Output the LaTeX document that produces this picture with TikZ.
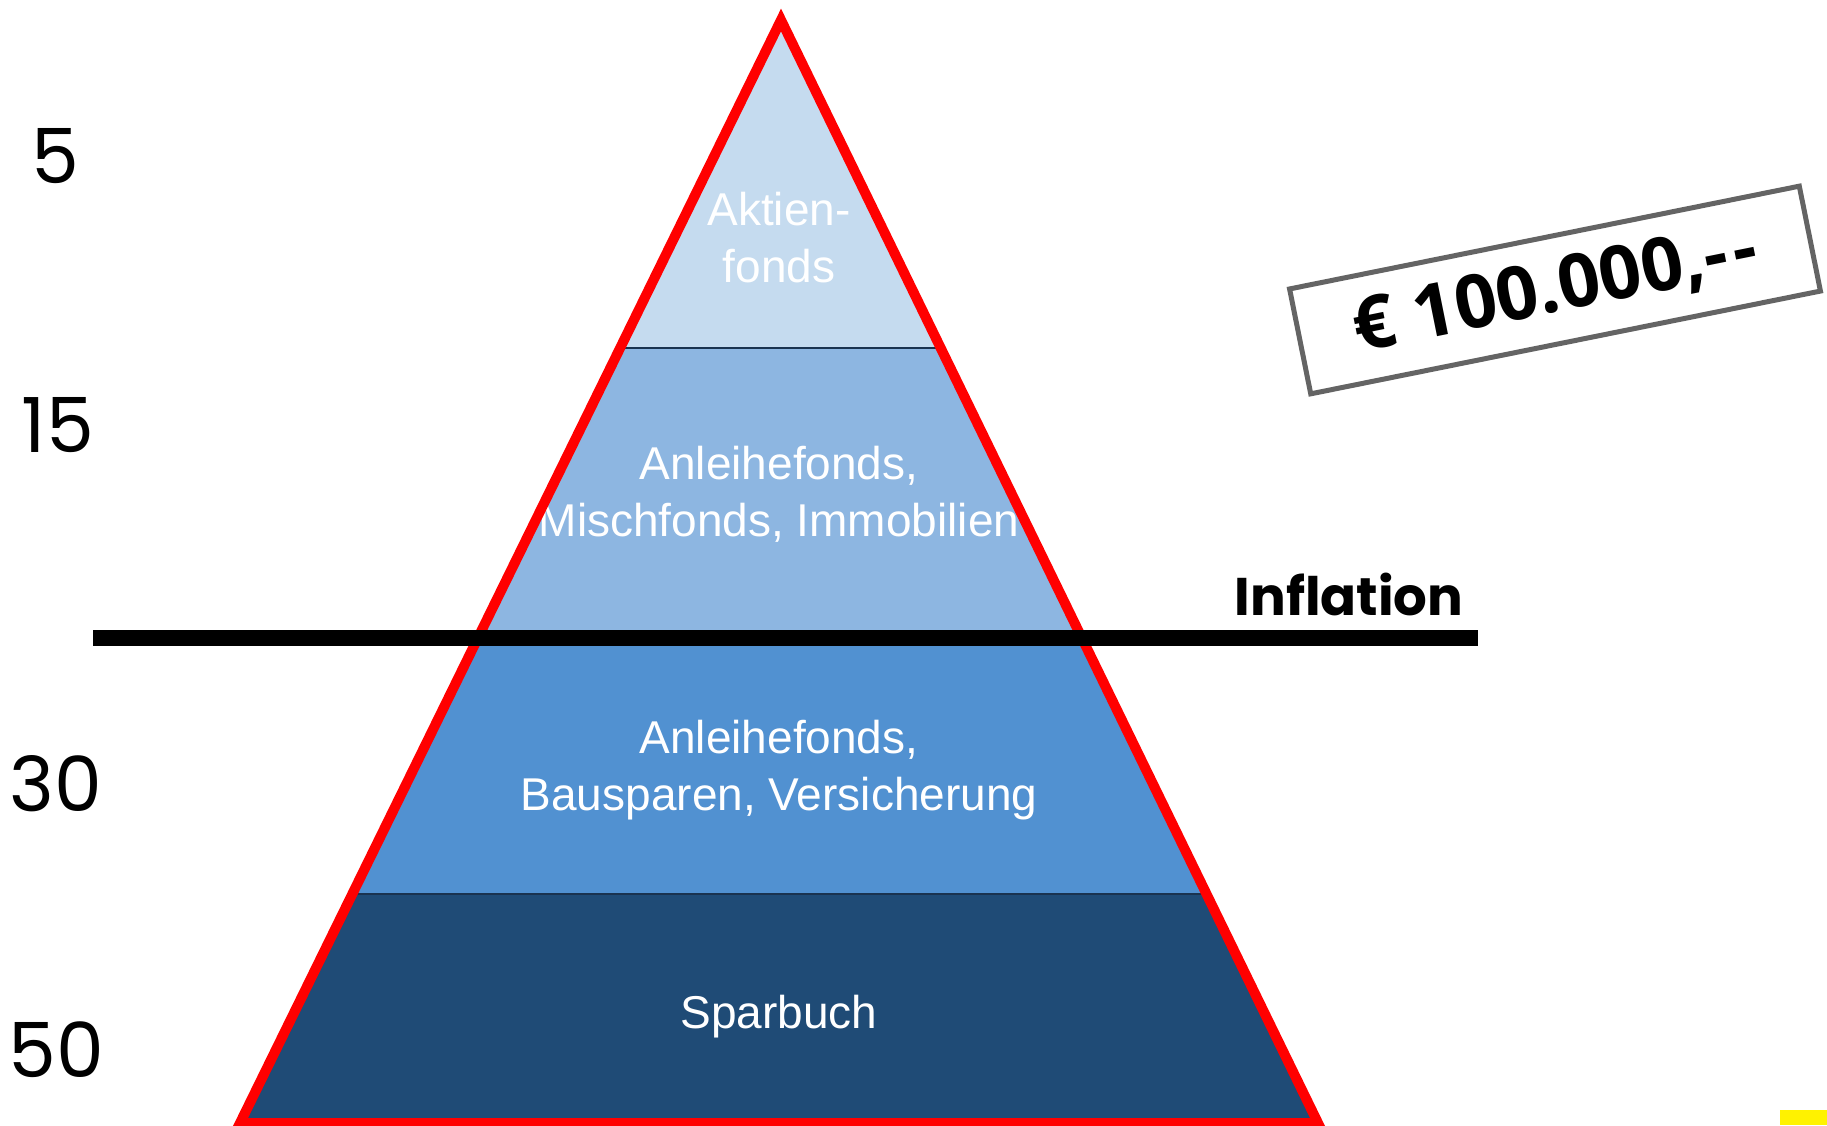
\documentclass[tikz,border=0pt]{standalone}
\usepackage{fontspec}
\setmainfont{Liberation Sans}
\newfontfamily\numfont{Poppins}
\newfontfamily\pricefont{Open Sans}
\definecolor{layerA}{HTML}{C5DBEF}
\definecolor{layerB}{HTML}{8DB6E1}
\definecolor{layerC}{HTML}{5191D1}
\definecolor{layerD}{HTML}{1F4B76}
\definecolor{sepline}{HTML}{1A3350}
\definecolor{boxgray}{HTML}{646464}
\definecolor{pyrred}{HTML}{FF0000}
\begin{document}
\begin{tikzpicture}[x=1pt,y=-1pt,
  layertext/.style={text=white,font=\fontsize{46}{57}\selectfont,align=center,inner sep=0pt},
  numlabel/.style={font=\numfont\fontsize{76}{76}\selectfont,inner sep=0pt},
  sepstyle/.style={draw=sepline,line width=2.5},
  outline/.style={draw=pyrred,line width=10,line join=miter},
  inflline/.style={draw=black,line width=16},
  pricebox/.style={draw=boxgray,line width=5,rotate=11.4,minimum width=520,minimum height=107,inner sep=0pt,font=\pricefont\bfseries\fontsize{74}{74}\selectfont}]
\useasboundingbox (0,0) rectangle (1827,1125);
\coordinate (apex) at (781,20);
\coordinate (bl) at (240,1123);
\coordinate (br) at (1318,1123);
\begin{scope}
  \clip (apex) -- (bl) -- (br) -- cycle;
  \fill[layerA] (0,0) rectangle (1827,348);
  \fill[layerB] (0,348) rectangle (1827,636);
  \fill[layerC] (0,636) rectangle (1827,894);
  \fill[layerD] (0,894) rectangle (1827,1125);
  \draw[sepstyle] (0,348) -- (1827,348);
  \draw[sepstyle] (0,894) -- (1827,894);
\end{scope}
\node[layertext] (t1) at (779,238) {Aktien-\\fonds};
\node[layertext] (t2) at (779,494) {Anleihefonds,\\Mischfonds, Immobilien};
\node[layertext] (t3) at (779,770) {Anleihefonds,\\Bausparen, Versicherung};
\node[layertext] (t4) at (779,1017) {Sparbuch};
\draw[outline] (apex) -- (bl) -- (br) -- cycle;
\coordinate (inflL) at (93,638);
\coordinate (inflR) at (1478,638);
\draw[inflline] (inflL) -- (inflR);
\node[font=\numfont\bfseries\fontsize{53}{53}\selectfont,anchor=base,inner sep=0pt] (infl) at (1349,615) {Inflation};
\node[numlabel] (n5) at (55,156) {5};
\node[numlabel] (n15) at (58,425) {15};
\node[numlabel] (n30) at (56,784) {30};
\node[numlabel] (n50) at (56,1050) {50};
\node[pricebox] (price) at (1555,290) {€ 100.000,-\kern5pt-};
\fill[yellow] (1780,1110) rectangle (1827,1125);
\end{tikzpicture}
\end{document}
